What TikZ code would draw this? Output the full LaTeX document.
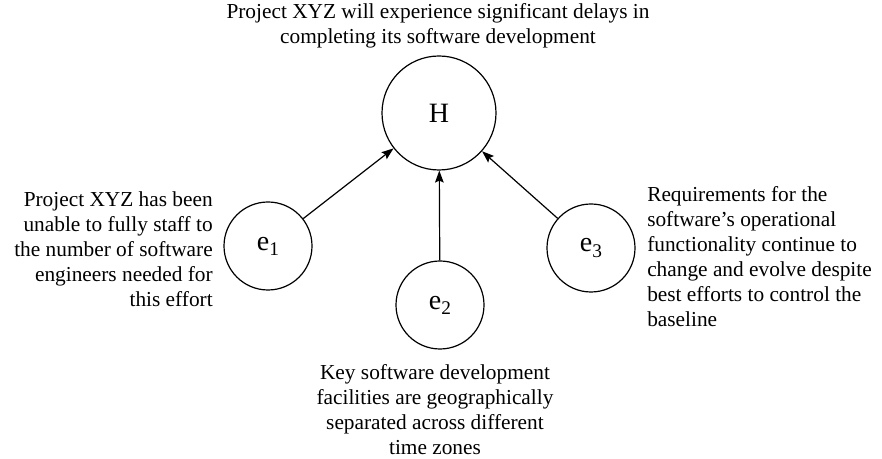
\documentclass[tikz,border=0pt]{standalone}
\usepackage{fontspec}
\setmainfont{Liberation Serif}
\usetikzlibrary{arrows.meta}

\tikzset{
  hyp/.style={circle, draw, line width=0.9pt, minimum size=85.5pt, inner sep=0pt,
              font=\fontsize{21}{24}\selectfont},
  evid/.style={circle, draw, line width=0.9pt, minimum size=66pt, inner sep=0pt,
               font=\fontsize{21}{24}\selectfont},
  note/.style={inner sep=0pt, font=\fontsize{16}{18.75}\selectfont},
  link/.style={line width=0.9pt, -{Stealth[length=9pt,width=6.5pt,inset=1.5pt]}}
}
\newcommand{\evsub}[1]{e\raisebox{-3.8pt}{\fontsize{14.5}{16}\selectfont #1}}

\begin{document}
\begin{tikzpicture}[x=0.75pt, y=-0.75pt]
  \useasboundingbox (0,0) rectangle (882,459);

  % hypothesis and its three pieces of evidence
  \node[hyp]  (H)  at (439,113) {H};
  \node[evid] (e1) at (268,246) {\evsub{1}};
  \node[evid] (e2) at (440,305) {\evsub{2}};
  \node[evid] (e3) at (591,248) {\evsub{3}};

  % evidence supports the hypothesis
  \draw[link] (e1) -- (H);
  \draw[link] (e2) -- (H);
  \draw[link] (e3) -- (H);

  % descriptions
  \node[note, align=center] (tH) at (438,26)
    {Project XYZ will experience significant delays in\\
     completing its software development};
  \node[note, align=right, anchor=east] (t1) at (213,249)
    {Project XYZ has been\\
     unable to fully staff to\\
     the number of software\\
     engineers needed for\\
     this effort};
  \node[note, align=left, anchor=west] (t3) at (647,257)
    {Requirements for the\\
     software’s operational\\
     functionality continue to\\
     change and evolve despite\\
     best efforts to control the\\
     baseline};
  \node[note, align=center] (t2) at (435,409.5)
    {Key software development\\
     facilities are geographically\\
     separated across different\\
     time zones};
\end{tikzpicture}
\end{document}
